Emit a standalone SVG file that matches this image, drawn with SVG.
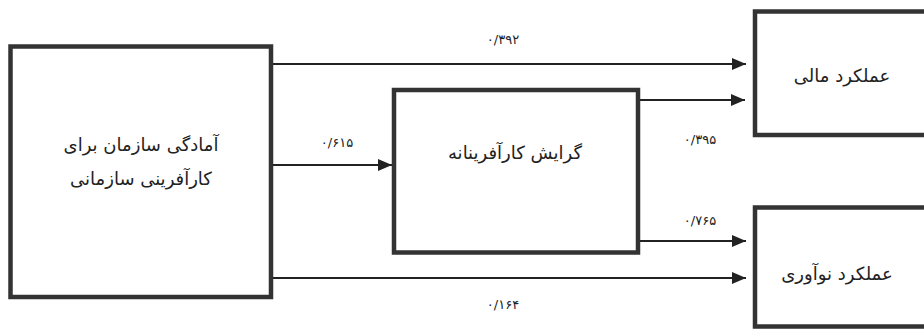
<svg xmlns="http://www.w3.org/2000/svg" width="924" height="330" viewBox="0 0 924 330">
<style>
.box{fill:#fff;stroke:#333;stroke-width:4.5}
.lbl{font-family:"DejaVu Sans","Noto Sans",sans-serif;font-size:18px;fill:#222;text-anchor:middle}
.num{font-family:"DejaVu Sans","Noto Sans",sans-serif;font-size:13px;fill:#222;text-anchor:middle}
.conn{stroke:#222;stroke-width:2;fill:none;marker-end:url(#ah)}
</style>
<defs>
<marker id="ah" markerWidth="14" markerHeight="12" refX="14" refY="6" orient="auto" markerUnits="userSpaceOnUse">
<path d="M0,0 L14,6 L0,12 Z" fill="#222"/>
</marker>
</defs>
<rect width="924" height="330" fill="#fff"/>
<g id="connectors">
<line class="conn" x1="273" y1="64" x2="746" y2="64"/>
<line class="conn" x1="273" y1="165" x2="392" y2="165"/>
<line class="conn" x1="640" y1="100" x2="745" y2="100"/>
<line class="conn" x1="640" y1="241" x2="746" y2="241"/>
<line class="conn" x1="273" y1="278" x2="746" y2="278"/>
<text class="num" x="503" y="44">۰/۳۹۲</text>
<text class="num" x="337" y="147">۰/۶۱۵</text>
<text class="num" x="700" y="144">۰/۳۹۵</text>
<text class="num" x="700" y="225">۰/۷۶۵</text>
<text class="num" x="503" y="309">۰/۱۶۴</text>
</g>
<g id="readiness">
<rect class="box" x="10.5" y="46.5" width="260.5" height="250.5"/>
<text class="lbl" x="141" y="151">آمادگی سازمان برای</text>
<text class="lbl" x="141" y="185">کارآفرینی سازمانی</text>
</g>
<g id="orientation">
<rect class="box" x="394" y="90" width="244" height="162.5"/>
<text class="lbl" x="515" y="159">گرایش کارآفرینانه</text>
</g>
<g id="financial">
<rect class="box" x="755" y="11.5" width="180" height="123.5"/>
<text class="lbl" x="842" y="82">عملکرد مالی</text>
</g>
<g id="innovation">
<rect class="box" x="755" y="207.5" width="180" height="119"/>
<text class="lbl" x="837" y="280">عملکرد نوآوری</text>
</g>
</svg>
